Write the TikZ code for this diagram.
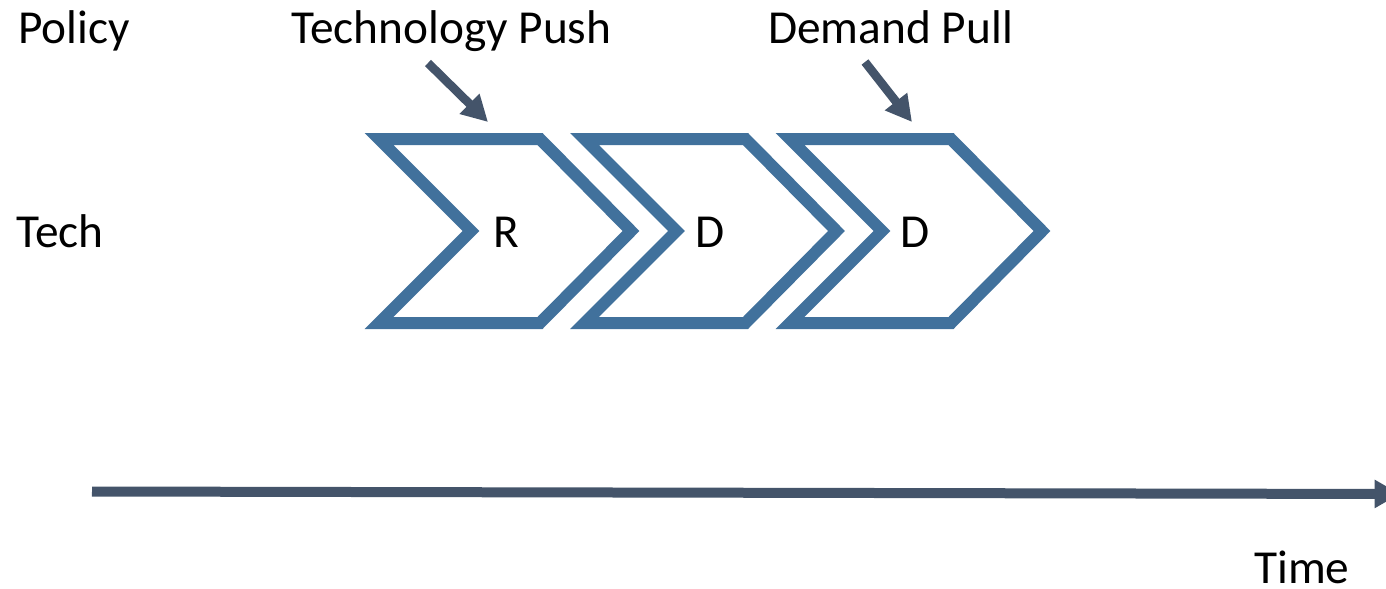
\documentclass[tikz,border=0pt]{standalone}
\usepackage{fontspec}
\setmainfont{Carlito}
\usetikzlibrary{arrows.meta}
\definecolor{chev}{HTML}{41719C}
\definecolor{arr}{HTML}{44546A}
\begin{document}
\begin{tikzpicture}[x=0.75pt,y=-0.75pt,
  chevron/.style={draw=chev,line width=9pt,line join=miter},
  lbl/.style={font=\fontsize{35.5}{42}\selectfont,inner sep=0pt,anchor=base west},
  stagelbl/.style={font=\fontsize{35.5}{42}\selectfont,inner sep=0pt,anchor=base},
  pointer/.style={draw=arr,line width=6.5pt,-{Triangle[length=19.5pt,width=20pt]}},
  timeaxis/.style={draw=arr,line width=7.5pt,-{Triangle[length=19pt,width=20pt]}}]
\useasboundingbox (0,0) rectangle (1386,589);
% chevrons
\foreach \i in {0,1,2}{
  \begin{scope}[xshift={\i*154.125pt}]
    \draw[chevron] (379,139) -- (540,139) -- (631,231) -- (540,323) -- (379,323) -- (471,231) -- cycle;
  \end{scope}
}
% stage labels
\node[stagelbl] (R) at (506,247) {R};
\node[stagelbl] (D1) at (710,247) {D};
\node[stagelbl] (D2) at (915,247) {D};
% side and top labels
\node[lbl] (policy) at (18,43) {Policy};
\node[lbl] (tech) at (16,247) {Tech};
\node[lbl] (push) at (291,43) {Technology Push};
\node[lbl] (pull) at (768,43) {Demand Pull};
\node[lbl] (time) at (1254,583) {Time};
% pointers
\coordinate (pushA) at (428,63);
\coordinate (pushB) at (488,122);
\coordinate (pullA) at (865,62);
\coordinate (pullB) at (912,122);
\draw[pointer] (pushA) -- (pushB);
\draw[pointer] (pullA) -- (pullB);
% time axis
\coordinate (t0) at (92,491.5);
\coordinate (t1) at (1400,494);
\draw[timeaxis] (t0) -- (t1);
\end{tikzpicture}
\end{document}
